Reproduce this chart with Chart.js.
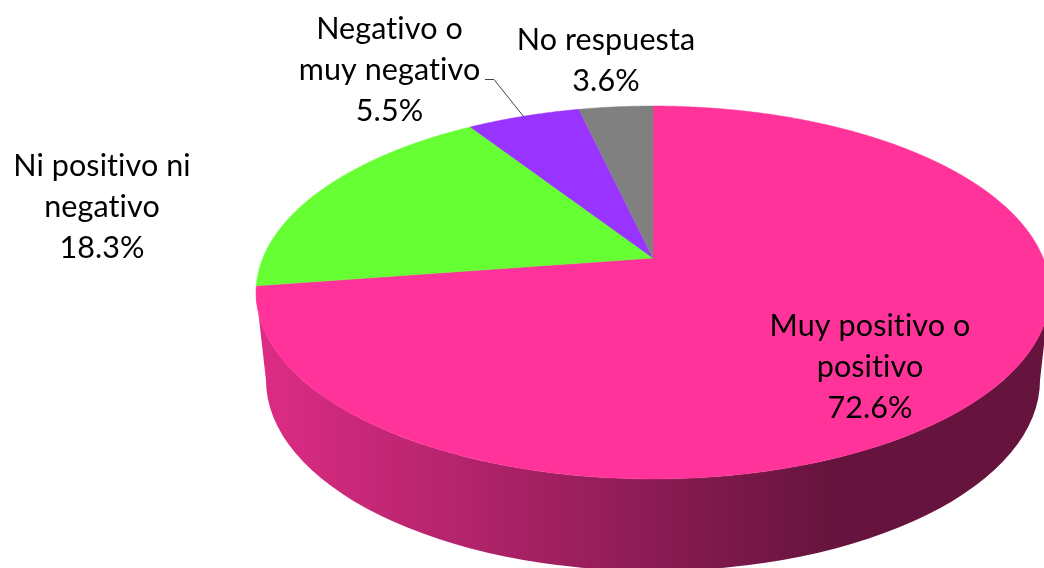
<!DOCTYPE html>
<html>
<head>
<meta charset="utf-8">
<style>html,body{margin:0;padding:0;background:#fff;overflow:hidden}canvas{display:block}</style>
<script src="https://cdn.jsdelivr.net/npm/chart.js@4"></script>
</head>
<body>
<canvas id="c" width="1044" height="568"></canvas>
<script>
const categories = ["Muy positivo o positivo", "Ni positivo ni negativo", "Negativo o muy negativo", "No respuesta"];
const values = [72.6, 18.3, 5.5, 3.6];
const colors = ["#FF3399", "#66FF33", "#9933FF", "#808080"];
const labelLines = [
  ["Muy positivo o", "positivo", "72.6%"],
  ["Ni positivo ni", "negativo", "18.3%"],
  ["Negativo o", "muy negativo", "5.5%"],
  ["No respuesta", "3.6%"]
];

// Layout constants (view geometry, not data)
const labelAnchors = [[870, 336], [102, 176], [389.5, 39], [606, 50]];
const lineStep = 41;
const FONT = '30.5px Lato';
const view = { kx: 1.512, ky: 0.698, q: 0.185, depth: 87.5, rxBottom: 0.975, ryBottom: 1.024 };

function project(el, theta) {
  const u = Math.sin(theta), v = -Math.cos(theta), w = 1 - view.q * v;
  return [el.x + el.outerRadius * view.kx * u / w, el.y + el.outerRadius * view.ky * v / w];
}

// Draw each arc on a tilted plane, from the angles the pie controller computed
Chart.ArcElement.prototype.draw = function (ctx) {
  const p = this.getProps(['x', 'y', 'startAngle', 'endAngle', 'outerRadius']);
  const a0 = p.startAngle + Math.PI / 2, a1 = p.endAngle + Math.PI / 2;
  const n = Math.max(2, Math.ceil((a1 - a0) / 0.005));
  ctx.save();
  ctx.beginPath();
  ctx.moveTo(p.x, p.y);
  for (let i = 0; i <= n; i++) {
    const t = project(p, a0 + (a1 - a0) * i / n);
    ctx.lineTo(t[0], t[1]);
  }
  ctx.closePath();
  ctx.fillStyle = this.options.backgroundColor;
  ctx.strokeStyle = this.options.backgroundColor;
  ctx.lineWidth = 0.5;
  ctx.lineJoin = 'round';
  ctx.fill();
  ctx.stroke();
  ctx.restore();
};

const wallPlugin = {
  id: 'wall',
  beforeDatasetsDraw(chart) {
    const el = chart.getDatasetMeta(0).data[0];
    const p = el.getProps(['x', 'y', 'outerRadius']);
    const A = p.outerRadius * view.kx, B = p.outerRadius * view.ky, q = view.q;
    const rx = A / Math.sqrt(1 - q * q);
    const top = p.y - B / (1 + q), bot = p.y + B / (1 - q);
    const cy = (top + bot) / 2, ry = (bot - top) / 2;
    const ctx = chart.ctx;
    const g = ctx.createLinearGradient(p.x - rx, 0, p.x + rx * 0.45, 0);
    g.addColorStop(0, '#DE2C85');
    g.addColorStop(1, '#66143D');
    ctx.save();
    ctx.beginPath();
    ctx.ellipse(p.x, cy, rx, ry, 0, 0, Math.PI, false);
    ctx.lineTo(p.x - rx * view.rxBottom, cy + view.depth);
    ctx.ellipse(p.x, cy + view.depth, rx * view.rxBottom, ry * view.ryBottom, 0, Math.PI, 0, true);
    ctx.closePath();
    ctx.fillStyle = g;
    ctx.fill();
    ctx.restore();
  }
};

const labelPlugin = {
  id: 'pieLabels',
  afterDatasetsDraw(chart) {
    const ctx = chart.ctx;
    ctx.save();
    // leader line for the "Negativo" label
    ctx.strokeStyle = '#404040';
    ctx.lineWidth = 1;
    ctx.beginPath();
    ctx.moveTo(485, 79.5);
    ctx.lineTo(494, 79.5);
    ctx.lineTo(524, 117);
    ctx.stroke();
    ctx.fillStyle = '#000';
    ctx.font = FONT;
    ctx.letterSpacing = '0.1px';
    ctx.textAlign = 'center';
    ctx.textBaseline = 'alphabetic';
    labelLines.forEach((lines, i) => {
      lines.forEach((s, j) => ctx.fillText(s, labelAnchors[i][0], labelAnchors[i][1] + j * lineStep));
    });
    ctx.restore();
  }
};

new Chart(document.getElementById('c'), {
  type: 'pie',
  data: { labels: categories, datasets: [{ data: values, backgroundColor: colors, borderWidth: 0 }] },
  options: {
    responsive: false,
    animation: false,
    layout: { padding: { left: 262, bottom: 52 } },
    plugins: { legend: { display: false }, tooltip: { enabled: false } }
  },
  plugins: [wallPlugin, labelPlugin]
});
</script>
</body>
</html>
